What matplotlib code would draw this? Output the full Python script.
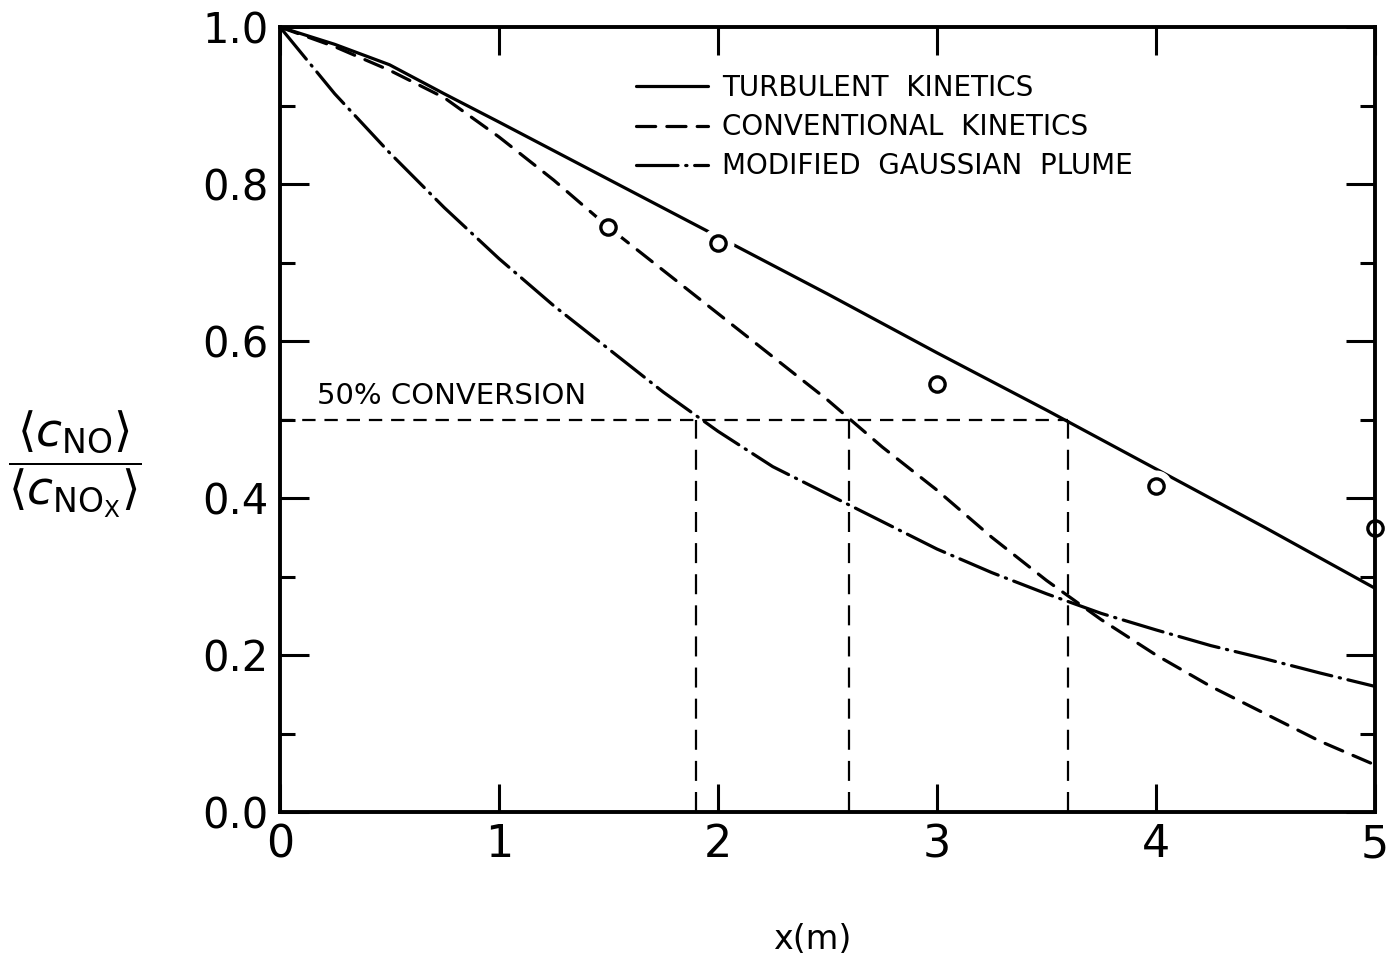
import matplotlib
matplotlib.use("Agg")
import matplotlib.pyplot as plt
from matplotlib.ticker import MultipleLocator

plt.rcParams["font.family"] = ["DejaVu Sans"]
plt.rcParams["mathtext.fontset"] = "dejavusans"

# Distance downstream (m)
x_turb = [0.0, 0.25, 0.5, 0.75, 1.0, 1.5, 2.0, 2.5, 3.0, 3.5, 4.0, 4.5, 5.0]
y_turb = [1.0, 0.978, 0.952, 0.915, 0.879, 0.806, 0.733, 0.66, 0.585, 0.512, 0.437, 0.362, 0.285]

x_conv = [0.0, 0.25, 0.5, 0.75, 1.0, 1.25, 1.5, 1.75, 2.0, 2.25, 2.5, 2.75, 3.0,
          3.25, 3.5, 3.75, 4.0, 4.25, 4.5, 4.75, 5.0]
y_conv = [1.0, 0.975, 0.945, 0.91, 0.86, 0.805, 0.745, 0.69, 0.635, 0.58, 0.525,
          0.465, 0.41, 0.35, 0.295, 0.245, 0.2, 0.16, 0.125, 0.09, 0.06]

x_gauss = [0.0, 0.25, 0.5, 0.75, 1.0, 1.25, 1.5, 1.75, 2.0, 2.25, 2.5, 2.75, 3.0,
           3.25, 3.5, 3.75, 4.0, 4.25, 4.5, 4.75, 5.0]
y_gauss = [1.0, 0.915, 0.84, 0.77, 0.705, 0.645, 0.59, 0.535, 0.485, 0.44, 0.405,
           0.37, 0.335, 0.305, 0.278, 0.253, 0.232, 0.212, 0.195, 0.177, 0.16]

# Measured values
x_obs = [1.5, 2.0, 3.0, 4.0, 5.0]
y_obs = [0.745, 0.725, 0.545, 0.415, 0.362]

# 50 % conversion distances
conv_level = 0.5
conv_x = [1.9, 2.6, 3.6]

labels = ["TURBULENT  KINETICS", "CONVENTIONAL  KINETICS", "MODIFIED  GAUSSIAN  PLUME"]
x_ticks = [0, 1, 2, 3, 4, 5]
y_ticks = [0.0, 0.2, 0.4, 0.6, 0.8, 1.0]

fig = plt.figure(figsize=(13.97, 9.66), dpi=100)
ax = fig.add_axes([0.2004, 0.1594, 0.7839, 0.8126])

lw = 2.3
l1, = ax.plot(x_turb, y_turb, color="black", lw=lw, solid_capstyle="round", zorder=2)
l2, = ax.plot(x_conv, y_conv, color="black", lw=lw, linestyle=(0, (6, 3.5)),
              dash_capstyle="round", zorder=2)
l3, = ax.plot(x_gauss, y_gauss, color="black", lw=lw, linestyle=(0, (13, 2.4, 0.4, 2.4)),
              dash_capstyle="round", zorder=2)

# 50 % conversion guides
ax.plot([0, max(conv_x)], [conv_level, conv_level], color="black", lw=1.6,
        linestyle=(0, (6, 4)), zorder=1)
for cx in conv_x:
    ax.plot([cx, cx], [0, conv_level], color="black", lw=1.6,
            linestyle=(0, (9, 5)), zorder=1)
ax.text(0.17, conv_level + 0.012, "50% CONVERSION", fontsize=21, va="bottom", ha="left")

# measured points, with a white halo that breaks the curves
ax.plot(x_obs, y_obs, linestyle="none", marker="o", markersize=22,
        markerfacecolor="white", markeredgecolor="white", zorder=3)
ax.plot(x_obs, y_obs, linestyle="none", marker="o", markersize=11,
        markerfacecolor="white", markeredgecolor="black", markeredgewidth=2.4,
        zorder=4, clip_on=False)

ax.set_xlim(0, 5)
ax.set_ylim(0, 1.0)
ax.set_xticks(x_ticks)
ax.set_xticklabels([str(t) for t in x_ticks])
ax.set_yticks(y_ticks)
ax.set_yticklabels([f"{t:.1f}" for t in y_ticks])
ax.yaxis.set_minor_locator(MultipleLocator(0.1))

ax.tick_params(axis="x", which="major", direction="in", length=20, width=2.2,
               top=True, bottom=True, labelsize=32, pad=8)
ax.tick_params(axis="y", which="major", direction="in", length=21, width=2.2,
               left=True, right=True, labelsize=30, pad=8)
ax.tick_params(axis="y", which="minor", direction="in", length=11, width=2.2,
               left=True, right=True)

for sp in ax.spines.values():
    sp.set_linewidth(2.8)
    sp.set_zorder(5)

ax.set_xlabel("x(m)", fontsize=24, va="center")
ax.xaxis.set_label_coords(0.486, -0.163)

fig.text(0.054, 0.519,
         r"$\dfrac{\left\langle c_{\mathrm{NO}} \right\rangle}{\left\langle c_{\mathrm{NO}_{\mathrm{X}}} \right\rangle}$",
         fontsize=34, ha="center", va="center")

leg = ax.legend([l1, l2, l3], labels, loc="upper left", bbox_to_anchor=(0.325, 0.94),
                frameon=False, fontsize=20, handlelength=2.6, handletextpad=0.5,
                labelspacing=0.4, borderpad=0, borderaxespad=0)

fig.savefig("out.png", dpi=100, facecolor="white")
